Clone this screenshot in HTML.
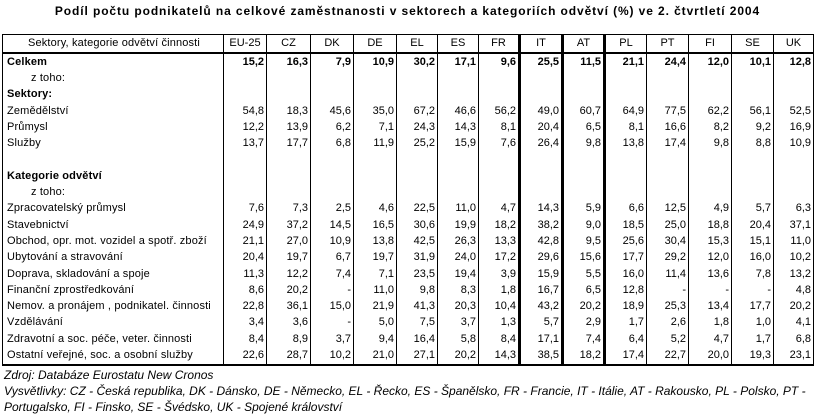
<!DOCTYPE html>
<html><head><meta charset="utf-8"><style>
html,body{margin:0;padding:0;background:#fff;width:815px;height:415px;overflow:hidden}
body{font-family:"Liberation Sans",Arial,sans-serif;font-size:11px;color:#000;position:relative}
.title{position:absolute;left:0;width:815px;top:4px;text-align:center;font-weight:bold;font-size:12px;letter-spacing:0.9px}
table{position:absolute;left:2px;top:34px;border-collapse:collapse;table-layout:fixed;width:811px}
td{padding:0 2px;white-space:nowrap;overflow:hidden;height:16.3px;line-height:15px;text-align:right;border-left:1px solid #000;border-right:1px solid #000}
td:first-child{text-align:left;padding-left:4px;letter-spacing:0.15px}
thead td{height:17px;text-align:center!important;border:1px solid #000;border-bottom:2px solid #000}
tr.b td{font-weight:bold}
.ind{padding-left:28px!important}
td.t{border-right:3px solid #000}
tbody tr:last-child td{border-bottom:2px solid #000}
.foot{position:absolute;left:4px;font-style:italic;font-size:12px}
</style></head><body>
<div class="title">Podíl počtu podnikatelů na celkové zaměstnanosti v sektorech a kategoriích odvětví (%) ve 2. čtvrtletí 2004</div>
<table>
<colgroup><col style="width:221px"><col style="width:43px"><col style="width:44px"><col style="width:43px"><col style="width:43px"><col style="width:41px"><col style="width:41px"><col style="width:41px"><col style="width:43px"><col style="width:42px"><col style="width:42px"><col style="width:42px"><col style="width:43px"><col style="width:42px"><col style="width:40px"></colgroup>
<thead><tr><td>Sektory, kategorie odvětví činnosti</td><td>EU-25</td><td>CZ</td><td>DK</td><td>DE</td><td>EL</td><td>ES</td><td class="t">FR</td><td class="t">IT</td><td class="t">AT</td><td>PL</td><td>PT</td><td>FI</td><td>SE</td><td>UK</td></tr></thead>
<tbody>
<tr class="b"><td>Celkem</td><td>15,2</td><td>16,3</td><td>7,9</td><td>10,9</td><td>30,2</td><td>17,1</td><td class="t">9,6</td><td class="t">25,5</td><td class="t">11,5</td><td>21,1</td><td>24,4</td><td>12,0</td><td>10,1</td><td>12,8</td></tr>
<tr><td class="ind">z toho:</td><td></td><td></td><td></td><td></td><td></td><td></td><td class="t"></td><td class="t"></td><td class="t"></td><td></td><td></td><td></td><td></td><td></td></tr>
<tr class="b"><td>Sektory:</td><td></td><td></td><td></td><td></td><td></td><td></td><td class="t"></td><td class="t"></td><td class="t"></td><td></td><td></td><td></td><td></td><td></td></tr>
<tr><td>Zemědělství</td><td>54,8</td><td>18,3</td><td>45,6</td><td>35,0</td><td>67,2</td><td>46,6</td><td class="t">56,2</td><td class="t">49,0</td><td class="t">60,7</td><td>64,9</td><td>77,5</td><td>62,2</td><td>56,1</td><td>52,5</td></tr>
<tr><td>Průmysl</td><td>12,2</td><td>13,9</td><td>6,2</td><td>7,1</td><td>24,3</td><td>14,3</td><td class="t">8,1</td><td class="t">20,4</td><td class="t">6,5</td><td>8,1</td><td>16,6</td><td>8,2</td><td>9,2</td><td>16,9</td></tr>
<tr><td>Služby</td><td>13,7</td><td>17,7</td><td>6,8</td><td>11,9</td><td>25,2</td><td>15,9</td><td class="t">7,6</td><td class="t">26,4</td><td class="t">9,8</td><td>13,8</td><td>17,4</td><td>9,8</td><td>8,8</td><td>10,9</td></tr>
<tr><td></td><td></td><td></td><td></td><td></td><td></td><td></td><td class="t"></td><td class="t"></td><td class="t"></td><td></td><td></td><td></td><td></td><td></td></tr>
<tr class="b"><td>Kategorie odvětví</td><td></td><td></td><td></td><td></td><td></td><td></td><td class="t"></td><td class="t"></td><td class="t"></td><td></td><td></td><td></td><td></td><td></td></tr>
<tr><td class="ind">z toho:</td><td></td><td></td><td></td><td></td><td></td><td></td><td class="t"></td><td class="t"></td><td class="t"></td><td></td><td></td><td></td><td></td><td></td></tr>
<tr><td>Zpracovatelský průmysl</td><td>7,6</td><td>7,3</td><td>2,5</td><td>4,6</td><td>22,5</td><td>11,0</td><td class="t">4,7</td><td class="t">14,3</td><td class="t">5,9</td><td>6,6</td><td>12,5</td><td>4,9</td><td>5,7</td><td>6,3</td></tr>
<tr><td>Stavebnictví</td><td>24,9</td><td>37,2</td><td>14,5</td><td>16,5</td><td>30,6</td><td>19,9</td><td class="t">18,2</td><td class="t">38,2</td><td class="t">9,0</td><td>18,5</td><td>25,0</td><td>18,8</td><td>20,4</td><td>37,1</td></tr>
<tr><td>Obchod, opr. mot. vozidel a spotř. zboží</td><td>21,1</td><td>27,0</td><td>10,9</td><td>13,8</td><td>42,5</td><td>26,3</td><td class="t">13,3</td><td class="t">42,8</td><td class="t">9,5</td><td>25,6</td><td>30,4</td><td>15,3</td><td>15,1</td><td>11,0</td></tr>
<tr><td>Ubytování a stravování</td><td>20,4</td><td>19,7</td><td>6,7</td><td>19,7</td><td>31,9</td><td>24,0</td><td class="t">17,2</td><td class="t">29,6</td><td class="t">15,6</td><td>17,7</td><td>29,2</td><td>12,0</td><td>16,0</td><td>10,2</td></tr>
<tr><td>Doprava, skladování a spoje</td><td>11,3</td><td>12,2</td><td>7,4</td><td>7,1</td><td>23,5</td><td>19,4</td><td class="t">3,9</td><td class="t">15,9</td><td class="t">5,5</td><td>16,0</td><td>11,4</td><td>13,6</td><td>7,8</td><td>13,2</td></tr>
<tr><td>Finanční zprostředkování</td><td>8,6</td><td>20,2</td><td>-</td><td>11,0</td><td>9,8</td><td>8,3</td><td class="t">1,8</td><td class="t">16,7</td><td class="t">6,5</td><td>12,8</td><td>-</td><td>-</td><td>-</td><td>4,8</td></tr>
<tr><td>Nemov. a pronájem , podnikatel. činnosti</td><td>22,8</td><td>36,1</td><td>15,0</td><td>21,9</td><td>41,3</td><td>20,3</td><td class="t">10,4</td><td class="t">43,2</td><td class="t">20,2</td><td>18,9</td><td>25,3</td><td>13,4</td><td>17,7</td><td>20,2</td></tr>
<tr><td>Vzdělávání</td><td>3,4</td><td>3,6</td><td>-</td><td>5,0</td><td>7,5</td><td>3,7</td><td class="t">1,3</td><td class="t">5,7</td><td class="t">2,9</td><td>1,7</td><td>2,6</td><td>1,8</td><td>1,0</td><td>4,1</td></tr>
<tr><td>Zdravotní a soc. péče, veter. činnosti</td><td>8,4</td><td>8,9</td><td>3,7</td><td>9,4</td><td>16,4</td><td>5,8</td><td class="t">8,4</td><td class="t">17,1</td><td class="t">7,4</td><td>6,4</td><td>5,2</td><td>4,7</td><td>1,7</td><td>6,8</td></tr>
<tr><td>Ostatní veřejné, soc. a osobní služby</td><td>22,6</td><td>28,7</td><td>10,2</td><td>21,0</td><td>27,1</td><td>20,2</td><td class="t">14,3</td><td class="t">38,5</td><td class="t">18,2</td><td>17,4</td><td>22,7</td><td>20,0</td><td>19,3</td><td>23,1</td></tr>
</tbody></table>
<div class="foot" style="top:368px">Zdroj: Databáze Eurostatu New Cronos</div>
<div class="foot" style="top:384px">Vysvětlivky: CZ - Česká republika, DK - Dánsko, DE - Německo, EL - Řecko, ES - Španělsko, FR - Francie, IT - Itálie, AT - Rakousko, PL - Polsko, PT -</div>
<div class="foot" style="top:400px">Portugalsko, FI - Finsko, SE - Švédsko, UK - Spojené království</div>
</body></html>
